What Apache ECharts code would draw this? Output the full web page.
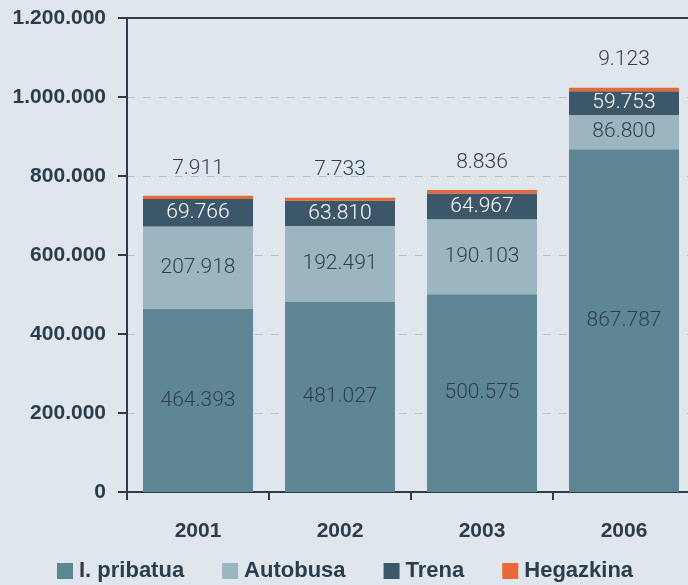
<!DOCTYPE html>
<html>
<head>
<meta charset="utf-8">
<script src="https://cdn.jsdelivr.net/npm/echarts@6/dist/echarts.min.js"></script>
<style>
html,body{margin:0;padding:0;background:#dfe6ec;}
#c{width:688px;height:585px;}
</style>
</head>
<body>
<div id="c"></div>
<script>
var categories = ['2001', '2002', '2003', '2006'];
var pribatua = [464393, 481027, 500575, 867787];
var autobusa = [207918, 192491, 190103, 86800];
var trena = [69766, 63810, 64967, 59753];
var hegazkina = [7911, 7733, 8836, 9123];
var seriesNames = ['I. pribatua', 'Autobusa', 'Trena', 'Hegazkina'];
var yTicks = [0, 200000, 400000, 600000, 800000, 1000000, 1200000];

function fmt(v) {
  return String(v).replace(/\B(?=(\d{3})+(?!\d))/g, '.');
}

var dark = '#2b3d4a';
var colors = ['#5e8694', '#9bb5c1', '#3c576a', '#e8683a'];
var labelFont = 'Roboto';

function lab(color, pos, dist) {
  return {
    show: true, position: pos, distance: dist || 5, color: color,
    fontFamily: labelFont, fontSize: 21, fontWeight: 300,
    formatter: function (p) { return fmt(p.value); }
  };
}

var chart = echarts.init(document.getElementById('c'));
chart.setOption({
  backgroundColor: '#dfe6ec',
  animation: false,
  grid: { left: 127, width: 568, top: 18, height: 474, containLabel: false, outerBoundsMode: 'none' },
  legend: {
    left: 57, top: 560, padding: 0, itemWidth: 16, itemHeight: 16, itemGap: 38,
    icon: 'rect',
    textStyle: { color: dark, fontFamily: 'Liberation Sans', fontWeight: 'bold', fontSize: 22, padding: [0, 0, 0, 1] },
    data: seriesNames
  },
  xAxis: [{
    type: 'category', data: categories,
    axisLine: { lineStyle: { color: dark, width: 2 } },
    axisTick: { show: true, length: 8, lineStyle: { color: dark, width: 2 } },
    axisLabel: { color: dark, fontFamily: 'Liberation Sans', fontWeight: 'bold', fontSize: 21, margin: 29 }
  }, {
    type: 'category', data: categories, position: 'top',
    axisLine: { show: true, lineStyle: { color: dark, width: 2 } },
    axisTick: { show: false }, axisLabel: { show: false }
  }],
  yAxis: {
    type: 'value', min: 0, max: 1200000, interval: 200000,
    axisLine: { show: true, lineStyle: { color: dark, width: 2 } },
    axisTick: { show: true, length: 9, lineStyle: { color: dark, width: 2 } },
    axisLabel: {
      color: dark, fontFamily: 'Liberation Sans', fontWeight: 'bold', fontSize: 21, margin: 21,
      formatter: function (v) { return yTicks.indexOf(v) >= 0 ? fmt(v) : ''; }
    },
    splitLine: { show: true, lineStyle: { color: '#b9bcbf', type: [8, 8], width: 1 } }
  },
  series: [
    { name: seriesNames[0], type: 'bar', stack: 's', data: pribatua, barWidth: 110,
      itemStyle: { color: colors[0] }, label: lab('#2d3f4c', 'inside') },
    { name: seriesNames[1], type: 'bar', stack: 's', data: autobusa,
      itemStyle: { color: colors[1] }, label: lab('#2d3f4c', 'inside') },
    { name: seriesNames[2], type: 'bar', stack: 's', data: trena,
      itemStyle: { color: colors[2] }, label: lab('#ffffff', 'inside') },
    { name: seriesNames[3], type: 'bar', stack: 's', data: hegazkina,
      itemStyle: { color: colors[3] }, label: lab('#2d3f4c', 'top', 17) }
  ]
});
</script>
</body>
</html>
